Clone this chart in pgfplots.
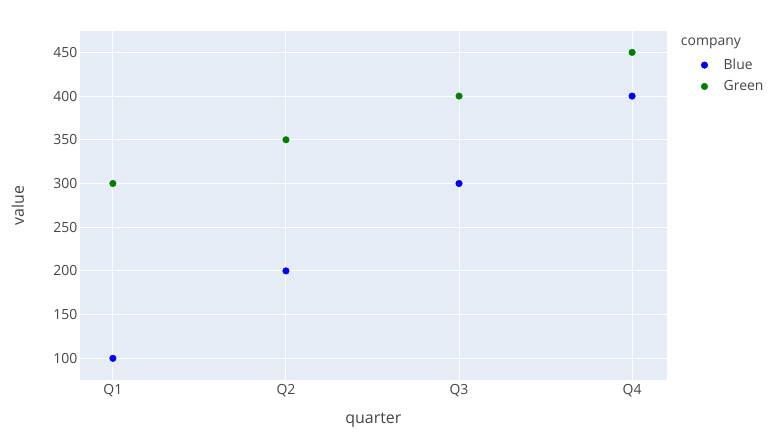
\documentclass[border=0pt]{standalone}
\usepackage{fontspec}
\setmainfont{Open Sans}
\usepackage{pgfplots}
\pgfplotsset{compat=1.18}
\definecolor{bgc}{HTML}{E5ECF6}
\definecolor{txt}{HTML}{444444}
\definecolor{pblue}{RGB}{0,0,255}
\definecolor{pgreen}{RGB}{0,128,0}
\begin{document}
\begin{tikzpicture}[x=1bp,y=1bp]
\path[use as bounding box] (0,0) rectangle (783,445);
\begin{axis}[at={(80bp,65bp)}, anchor=south west, scale only axis,
  width=586.7bp, height=349.3bp,
  xmin=-0.19, xmax=3.2, ymin=75.2, ymax=474.8,
  xtick={0,1,2,3}, xticklabels={Q1,Q2,Q3,Q4},
  ytick={100,150,...,450},
  grid=major, grid style={white, line width=1bp},
  axis background/.style={fill=bgc},
  axis line style={draw=none},
  tick style={draw=none},
  tick label style={font=\fontsize{14}{16}\selectfont, text=txt},
  /pgf/number format/assume math mode=true,
  yticklabel style={anchor=east, inner sep=0pt, xshift=-2.5bp},
  xticklabel style={anchor=center, inner sep=0pt, yshift=-11bp},
  xlabel={quarter}, ylabel={value},
  label style={font=\fontsize{16}{18}\selectfont, text=txt},
  xlabel style={at={(axis description cs:0.5,-0.1145)}, anchor=center},
  ylabel style={at={(axis description cs:-0.1057,0.5)}, anchor=center, rotate=0},
  legend style={at={(axis description cs:1.0535,0.925)}, anchor=north west,
    draw=none, fill=none, font=\fontsize{14}{16}\selectfont, text=txt,
    row sep=5.5bp, inner sep=0pt},
  legend cell align=left,
  legend image code/.code={\fill[#1] (6bp,0bp) circle[radius=3.3bp]; \path (0bp,0bp) (23bp,0bp);},
  clip=false,
]
\addplot[only marks, mark=*, mark size=3.3bp, color=pblue, mark options={fill=pblue, draw=none}]
  coordinates {(0,100) (1,200) (2,300) (3,400)};
\addlegendentry{Blue}
\addplot[only marks, mark=*, mark size=3.3bp, color=pgreen, mark options={fill=pgreen, draw=none}]
  coordinates {(0,300) (1,350) (2,400) (3,450)};
\addlegendentry{Green}
\node[anchor=west, inner sep=0pt, font=\fontsize{14}{16}\selectfont, text=txt] at (axis description cs:1.024,0.9639) {company};
\end{axis}
\end{tikzpicture}
\end{document}
